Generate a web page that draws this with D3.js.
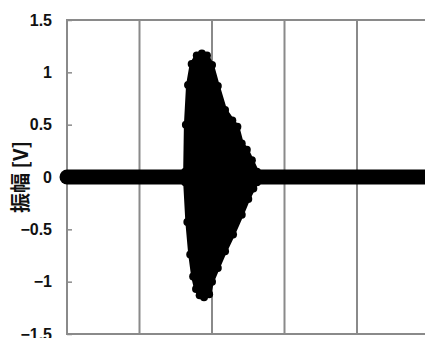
<!DOCTYPE html>
<html>
<head>
<meta charset="utf-8">
<script src="https://cdn.jsdelivr.net/npm/d3@7"></script>
<style>
  body { margin: 0; background: #fff; }
  svg { display: block; }
</style>
</head>
<body>
<svg id="chart" width="425" height="338"></svg>
<script>
// axis ticks
const yTicks = [-1.5, -1, -0.5, 0, 0.5, 1, 1.5];
const xGrid = [1, 2, 3, 4];

// flat baseline (no signal)
const baseT = [0, 5];
const baseV = [0, 0];

// burst envelope (time in grid divisions, volts)
const upperT = [1.63, 1.64, 1.67, 1.72, 1.79, 1.86, 1.93, 2.0, 2.08, 2.18, 2.28, 2.35, 2.41, 2.48, 2.55, 2.62];
const upperV = [0.05, 0.50, 0.88, 1.08, 1.16, 1.18, 1.16, 1.07, 0.87, 0.64, 0.54, 0.48, 0.32, 0.26, 0.16, 0.05];
const lowerT = [1.63, 1.66, 1.70, 1.74, 1.78, 1.83, 1.89, 1.96, 2.0, 2.08, 2.18, 2.29, 2.41, 2.50, 2.57, 2.62];
const lowerV = [-0.05, -0.43, -0.74, -0.95, -1.07, -1.13, -1.15, -1.12, -1.00, -0.87, -0.71, -0.55, -0.36, -0.21, -0.11, -0.05];

const svg = d3.select("#chart");
const margin = { left: 67, top: 20, bottom: 4 };
const plotRight = 429.5;
const plotBottom = 338 - margin.bottom;

const x = d3.scaleLinear().domain([0, 5]).range([margin.left, plotRight]);
const y = d3.scaleLinear().domain([-1.5, 1.5]).range([plotBottom, margin.top]);

const grey = "#8a8a8a";

// vertical grid
svg.append("g")
    .selectAll("line")
    .data(xGrid)
    .join("line")
    .attr("x1", d => x(d)).attr("x2", d => x(d))
    .attr("y1", y(1.5)).attr("y2", y(-1.5))
    .attr("stroke", grey)
    .attr("stroke-width", 2);

// frame
svg.append("rect")
    .attr("x", x(0)).attr("y", y(1.5))
    .attr("width", x(5) - x(0)).attr("height", y(-1.5) - y(1.5))
    .attr("fill", "none")
    .attr("stroke", grey)
    .attr("stroke-width", 2);

// y axis ticks + labels
const yAxis = d3.axisLeft(y)
    .tickValues(yTicks)
    .tickSizeInner(-5)
    .tickSizeOuter(0)
    .tickPadding(15)
    .tickFormat(d => d3.format("")(d).replace("-", "\u2212"));

const gy = svg.append("g")
    .attr("transform", `translate(${x(0)},0)`)
    .call(yAxis);
gy.select(".domain").remove();
gy.selectAll("line").attr("stroke", grey).attr("stroke-width", 1.5);
gy.selectAll("text")
    .attr("font-family", "'Liberation Sans', Arial, sans-serif")
    .attr("font-size", 16)
    .attr("font-weight", "bold")
    .attr("fill", "#111");

// y label
svg.append("text")
    .attr("transform", `translate(19,${y(0)}) rotate(-90)`)
    .attr("text-anchor", "middle")
    .attr("dominant-baseline", "central")
    .attr("font-family", "'Noto Sans CJK JP', sans-serif")
    .attr("font-size", 20)
    .attr("font-weight", "bold")
    .attr("fill", "#111")
    .text("振幅 [V]");

// baseline
const base = baseT.map((t, i) => [t, baseV[i]]);
svg.append("path")
    .datum(base)
    .attr("d", d3.line().x(d => x(d[0])).y(d => y(d[1])))
    .attr("stroke", "#000")
    .attr("stroke-width", 15)
    .attr("stroke-linecap", "round")
    .attr("fill", "none");

// burst: polygon bounded by upper envelope and lower envelope
const upper = upperT.map((t, i) => [t, upperV[i]]);
const lower = lowerT.map((t, i) => [t, lowerV[i]]);
const outline = upper.concat(lower.slice().reverse());
svg.append("path")
    .datum(outline)
    .attr("d", d3.line().x(d => x(d[0])).y(d => y(d[1])).curve(d3.curveLinearClosed))
    .attr("fill", "#000")
    .attr("stroke", "#000")
    .attr("stroke-width", 4)
    .attr("stroke-linejoin", "round");

// markers along the envelope edges
svg.append("g")
    .selectAll("circle")
    .data(upper.concat(lower))
    .join("circle")
    .attr("cx", d => x(d[0]))
    .attr("cy", d => y(d[1]))
    .attr("r", 4)
    .attr("fill", "#000");
</script>
</body>
</html>
